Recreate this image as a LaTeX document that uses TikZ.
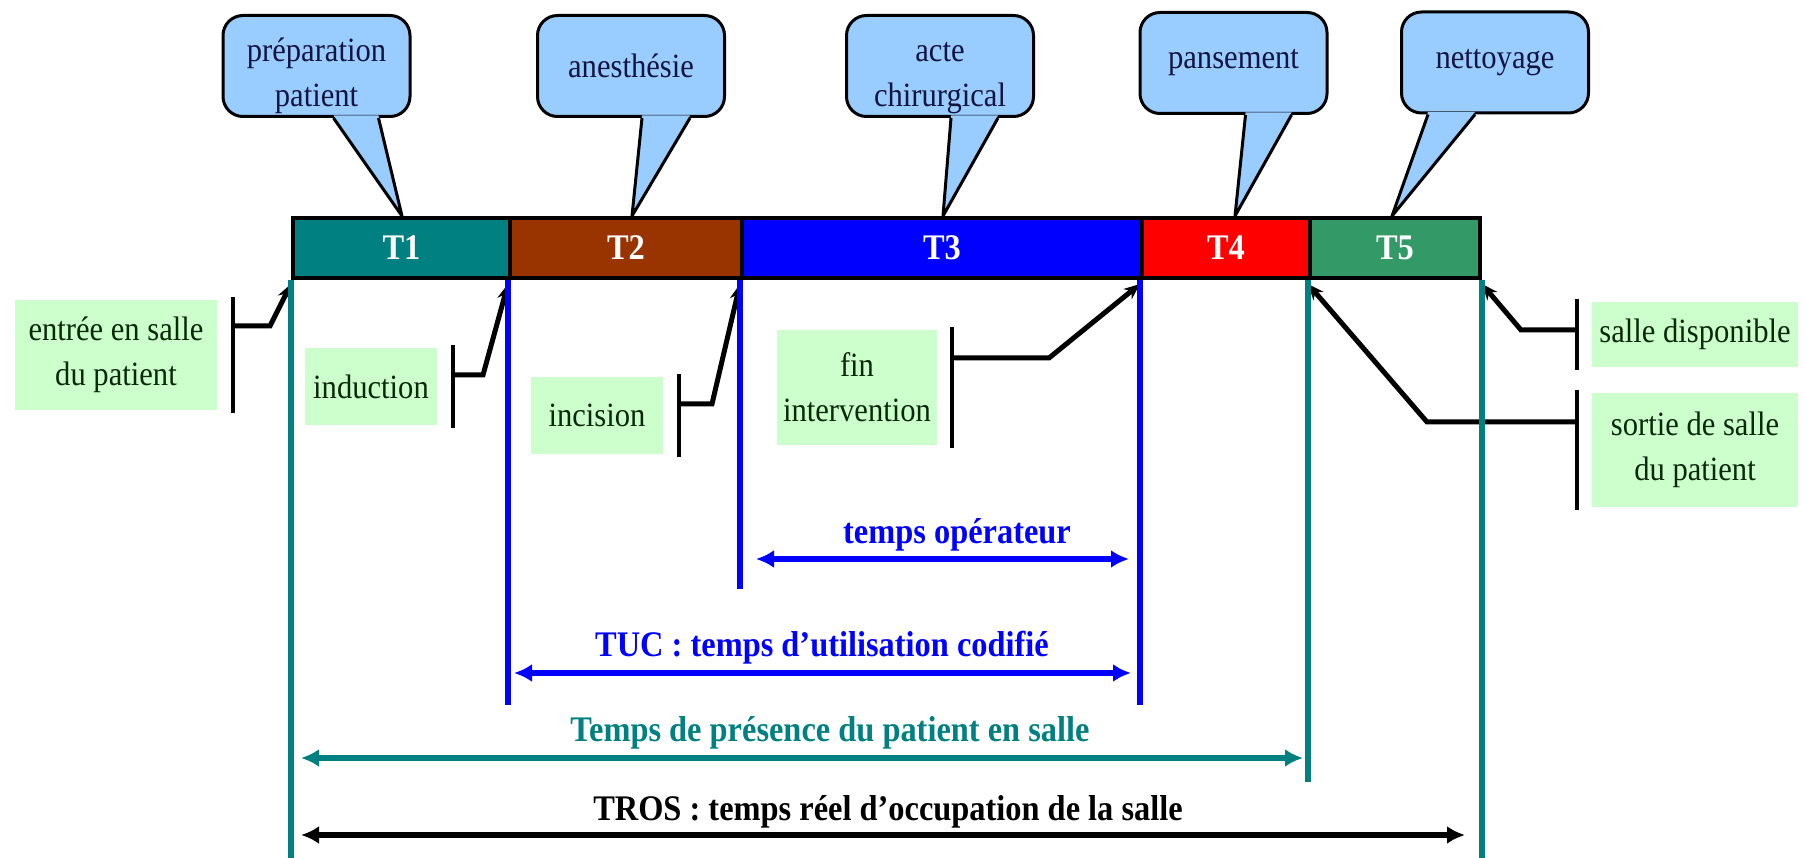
\documentclass[tikz,border=0pt]{standalone}
\usepackage{fontspec}
\setmainfont{Liberation Serif}[FakeStretch=0.9]
\usetikzlibrary{arrows.meta}
\definecolor{bubble}{RGB}{153,204,255}
\definecolor{mint}{RGB}{204,255,204}
\definecolor{tealT}{RGB}{0,128,128}
\definecolor{brownT}{RGB}{153,51,0}
\definecolor{blueT}{RGB}{0,0,255}
\definecolor{redT}{RGB}{255,0,0}
\definecolor{greenT}{RGB}{51,153,102}
\definecolor{inkblue}{RGB}{20,20,65}
\definecolor{inkgreen}{RGB}{10,40,10}
\def\txt{\fontsize{34pt}{45pt}\selectfont}
\def\btxt{\fontsize{36pt}{44pt}\selectfont\bfseries}
\def\lowered{\rule{0pt}{44pt}}
\def\ctail(#1)(#2:#3)(#4){\fill[bubble] ([xshift=#2pt,yshift=2.5pt]#1.south west) -- (#4) -- ([xshift=#3pt,yshift=2.5pt]#1.south west) -- cycle;
	\draw[line width=3pt] ([xshift=#2pt]#1.south west) -- (#4) -- ([xshift=#3pt]#1.south west);}
\tikzset{
	bubblebox/.style={draw, line width=3pt, fill=bubble, rounded corners=20pt, minimum width=187pt, minimum height=101pt, align=center, font=\txt, text=inkblue, inner sep=0pt},
	barseg/.style={draw, line width=4pt, minimum height=60pt, inner sep=0pt, text=white, font=\btxt},
	notebox/.style={fill=mint, align=center, font=\txt, text=inkgreen, inner sep=0pt},
	tickline/.style={line width=4pt},
	linkline/.style={line width=5pt, -{Stealth[length=16pt,width=13pt]}},
	guideline/.style={line width=6pt},
	spanarrow/.style={line width=6pt, {Latex[length=18pt,width=18pt]}-{Latex[length=18pt,width=18pt]}},
	spanlabel/.style={font=\btxt, inner sep=0pt}
}

\begin{document}
\begin{tikzpicture}[x=1pt, y=-1pt]
		%%%%% START %%%%%
		\useasboundingbox (0,0) rectangle (1805,858);
		
		\node[bubblebox] (prep) at (316.5,66) {\lowered préparation\\patient};
		\node[bubblebox] (anest) at (631,66) {anesthésie};
		\node[bubblebox] (acte) at (940,66) {\lowered acte\\chirurgical};
		\node[bubblebox] (pans) at (1233.5,63) {pansement};
		\node[bubblebox] (nett) at (1495,62.5) {nettoyage};
		
		\ctail(prep)(112:157)(402,216)
		\ctail(anest)(106:154)(632,216)
		\ctail(acte)(106:153)(943,216)
		\ctail(pans)(107:153)(1235,216)
		\ctail(nett)(28:75)(1392,216)
		
		\node[notebox, minimum width=202pt, minimum height=110pt] (entree) at (116,355) {entrée en salle\\du patient};
		\node[notebox, minimum width=132pt, minimum height=77pt] (induc) at (371,386.5) {induction};
		\node[notebox, minimum width=132pt, minimum height=77pt] (incis) at (597,415.5) {incision};
		\node[notebox, minimum width=160pt, minimum height=115pt] (finint) at (857,387.5) {fin\\intervention};
		\node[notebox, minimum width=206pt, minimum height=65pt] (dispo) at (1695,334.5) {salle disponible};
		\node[notebox, minimum width=206pt, minimum height=114pt] (sortie) at (1695,450) {sortie de salle\\du patient};
		
		\draw[tickline] ([xshift=16pt,yshift=3pt]entree.north east) -- ([xshift=16pt,yshift=-3pt]entree.south east);
		\draw[tickline] ([xshift=16pt,yshift=3pt]induc.north east) -- ([xshift=16pt,yshift=-3pt]induc.south east);
		\draw[tickline] ([xshift=16pt,yshift=3pt]incis.north east) -- ([xshift=16pt,yshift=-3pt]incis.south east);
		\draw[tickline] ([xshift=15pt,yshift=3pt]finint.north east) -- ([xshift=15pt,yshift=-3pt]finint.south east);
		\draw[tickline] ([xshift=-15pt,yshift=3pt]dispo.north west) -- ([xshift=-15pt,yshift=-3pt]dispo.south west);
		\draw[tickline] ([xshift=-15pt,yshift=3pt]sortie.north west) -- ([xshift=-15pt,yshift=-3pt]sortie.south west);
		
		\node[barseg, fill=tealT, minimum width=217pt] (T1) at (401.5,248) {T1};
		\node[barseg, fill=brownT, minimum width=232pt] (T2) at (626,248) {T2};
		\node[barseg, fill=blueT, minimum width=400pt] (T3) at (942,248) {T3};
		\node[barseg, fill=redT, minimum width=168pt] (T4) at (1226,248) {T4};
		\node[barseg, fill=greenT, minimum width=170pt] (T5) at (1395,248) {T5};
		
		\coordinate (kEntree) at (233,326);
		\coordinate (kInduc) at (453,375);
		\coordinate (kIncis) at (679,404);
		\coordinate (kFin) at (952,358);
		\coordinate (kDispo) at (1577,330);
		\coordinate (kSortie) at (1577,422);
		
		\draw[linkline] (kEntree) -- (270,326) -- ([yshift=-4pt]T1.south west);
		\draw[linkline] (kInduc) -- (483,375) -- ([yshift=-4pt]T2.south west);
		\draw[linkline] (kIncis) -- (712,404) -- ([yshift=-4pt]T3.south west);
		\draw[linkline] (kFin) -- (1049,358) -- ([yshift=-4pt]T4.south west);
		\draw[linkline] (kDispo) -- (1521,330) -- ([yshift=-4pt]T5.south east);
		\draw[linkline] (kSortie) -- (1427,422) -- ([yshift=-4pt]T5.south west);
		
		\draw[guideline, tealT] (T1.south west) -- +(0,580);
		\draw[guideline, blueT] (T2.south west) -- +(0,425);
		\draw[guideline, blueT] (T3.south west) -- +(0,309);
		\draw[guideline, blueT] (T4.south west) -- +(0,425);
		\draw[guideline, tealT] (T5.south west) -- +(0,502);
		\draw[guideline, tealT] (T5.south east) -- +(0,580);
		
		\draw[spanarrow, blueT] (756,559) -- (1129,559);
		\node[spanlabel, text=blueT] (opLbl) at (957,535) {temps opérateur};
		
		\draw[spanarrow, blueT] (514,673) -- (1131,673);
		\node[spanlabel, text=blueT] (tucLbl) at (822,648) {TUC : temps d'utilisation codifié};
		
		\draw[spanarrow, tealT] (301,758) -- (1303,758);
		\node[spanlabel, text=tealT] (presLbl) at (830,733) {Temps de présence du patient en salle};
		
		\draw[spanarrow, black] (301,835) -- (1465,835);
		\node[spanlabel, text=black] (trosLbl) at (888,812) {TROS : temps réel d'occupation de la salle};
		
		%%%%% END %%%%%
	\end{tikzpicture}
\end{document}
